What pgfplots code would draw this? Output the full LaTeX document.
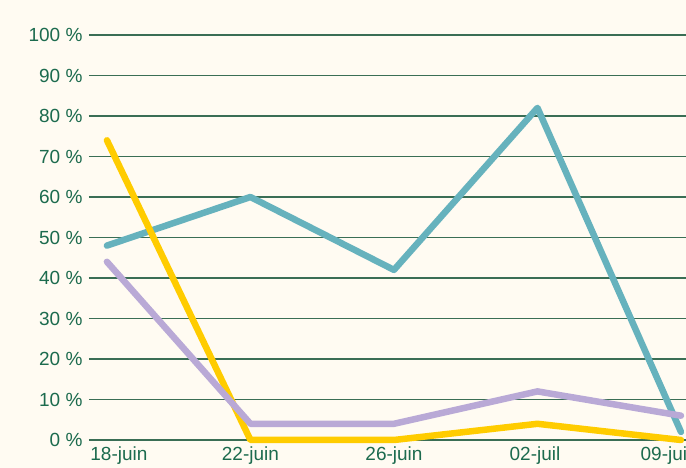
\documentclass[border=0pt]{standalone}
\usepackage{pgfplots}
\pgfplotsset{compat=1.18}
\usepackage{fontspec}
\setmainfont{Liberation Sans}
\definecolor{bg}{HTML}{FFFBF2}
\definecolor{txt}{HTML}{1C6B4E}
\definecolor{gridc}{HTML}{3A6E55}
\definecolor{teal}{HTML}{66B2BD}
\definecolor{yel}{HTML}{FFCC00}
\definecolor{lav}{HTML}{B9A9D6}
\begin{document}
\begin{tikzpicture}
\path[use as bounding box, fill=bg] (-89pt,-28pt) rectangle (597pt,440pt);
\begin{axis}[
  at={(0,0)}, anchor=south west,
  scale only axis, width=597pt, height=405pt,
  xmin=-0.125, xmax=4.035, ymin=0, ymax=100,
  axis line style={draw=none},
  major tick length=0pt,
  xtick={0,1,2,3,4},
  xticklabels={{\hspace*{24pt}18-juin},22-juin,26-juin,{02-juil\hspace*{5pt}},{09-juil\hspace*{30pt}}},
  ytick={0,10,...,100},
  yticklabels={0 \%,10 \%,20 \%,30 \%,40 \%,50 \%,60 \%,70 \%,80 \%,90 \%,100 \%},
  ymajorgrids, xmajorgrids=false,
  y grid style={draw=gridc, line width=1.1pt},
  ticklabel style={font=\fontsize{19}{21}\selectfont, text=txt},
  yticklabel style={xshift=-3pt},
  xticklabel style={yshift=-3pt},
  clip=false,
  every axis plot/.append style={line width=6.5pt, line cap=round, line join=round},
]
\addplot[teal] coordinates {(0,48) (1,60) (2,42) (3,82) (4,2)};
\addplot[yel] coordinates {(0,74) (1,0) (2,0) (3,4) (4,0)};
\addplot[lav] coordinates {(0,44) (1,4) (2,4) (3,12) (4,6)};
\end{axis}
\end{tikzpicture}
\end{document}
